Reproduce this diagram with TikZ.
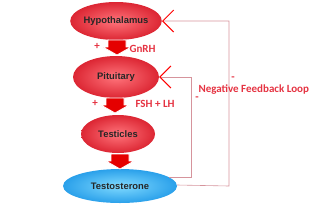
\documentclass[tikz,border=0pt]{standalone}
\usepackage{fontspec}
\setmainfont{Liberation Sans}
\newfontfamily\labelfont{Carlito}
\usetikzlibrary{arrows.meta,shapes.geometric}
\definecolor{glandlt}{HTML}{FF747B}
\definecolor{glanddk}{HTML}{DC2633}
\definecolor{hormone}{HTML}{2AA0EA}
\definecolor{hormonelt}{HTML}{80DAFF}
\definecolor{txtred}{HTML}{E53342}
\definecolor{loopline}{HTML}{D6949C}

\begin{document}
\begin{tikzpicture}[x=1pt,y=-1pt,
  organ/.style={ellipse,inner sep=0pt,inner color=glandlt,outer color=glanddk,
    font=\fontsize{9.4}{10}\selectfont\bfseries,text=black!85},
  blockarr/.pic={\filldraw[fill=red!90!black,draw=white,line width=0.8pt]
    (-9,-7) -- (9,-7) -- (9,0) -- (14,0) -- (0,8) -- (-14,0) -- (-9,0) -- cycle;},
  lbl/.style={font=\labelfont\fontsize{11}{12}\selectfont\bfseries,text=txtred},
  fb/.style={loopline,line width=0.6pt,-{Straight Barb[red,line width=1pt,length=11pt,width=22pt]}}]
\useasboundingbox (0,0) rectangle (320,207);
% glands and hormone
\node[organ,minimum width=72pt,minimum height=38pt] (hypo) at (116,21) {Hypothalamus};
\node[organ,minimum width=86pt,minimum height=42pt] (pit) at (116,77) {Pituitary};
\node[organ,minimum width=74pt,minimum height=38pt] (test) at (118,134) {Testicles};
\node[ellipse,inner sep=0pt,minimum width=114pt,minimum height=34pt,
  inner color=hormonelt,outer color=hormone,
  font=\fontsize{9.4}{10}\selectfont\bfseries,text=black!85] (testo) at (120,186) {Testosterone};
% block arrows
\pic (a1) at (117,47) {blockarr};
\pic (a2) at (115,105) {blockarr};
\pic (a3) at (120,161) {blockarr};
\node[lbl] (p1) at (97,46) {+};
\node[lbl,anchor=west] (gnrh) at (126,49) {GnRH};
\node[lbl] (p2) at (95,103) {+};
\node[lbl,anchor=west] (fshlh) at (132,104) {FSH + LH};
% feedback loops
\coordinate (outer) at (229,0);
\coordinate (inner) at (191,0);
\draw[fb] ([yshift=1pt]testo.east) -- (outer |- testo.east) |- (hypo.east);
\draw[fb] (testo.10) -- (inner |- testo.10) |- (pit.east);
\node[lbl,anchor=west] (neg) at (195,90) {Negative Feedback Loop};
\node[lbl] (m1) at (233,79) {-};
\node[lbl] (m2) at (197,99) {-};
\end{tikzpicture}
\end{document}
